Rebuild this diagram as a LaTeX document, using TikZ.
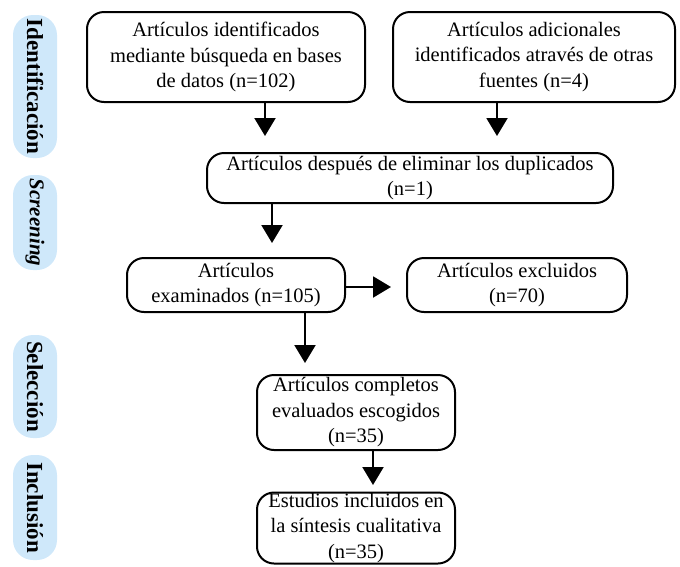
\documentclass[tikz,border=0pt]{standalone}
\usepackage{fontspec}
\setmainfont{Liberation Serif}
\usetikzlibrary{arrows.meta}
\definecolor{pill}{RGB}{207,232,250}
\tikzset{
  box/.style={draw=black, line width=2pt, rounded corners=17pt, align=center,
    font=\fontsize{20.5}{25.5}\selectfont, inner sep=0pt},
  pillbox/.style={fill=pill, draw=none, rounded corners=20pt},
  sidelab/.style={rotate=-90, font=\fontsize{23}{26}\selectfont\bfseries, inner sep=0pt},
  arr/.style={line width=2pt, -{Triangle[length=18pt,width=21pt]}}
}
\begin{document}
\begin{tikzpicture}[x=1pt,y=-1pt]
\useasboundingbox (0,0) rectangle (680,566);
% side pills
\fill[pillbox] (13,15) rectangle (57,158);
\fill[pillbox] (13,175) rectangle (57,270);
\fill[pillbox] (13,335) rectangle (57,438);
\fill[pillbox] (13,455) rectangle (57,560);
\node[sidelab] (l1) at (35,86.5) {Identificación};
\node[sidelab, font=\fontsize{21}{24}\selectfont\bfseries\itshape] (l2) at (35,222.5) {Screening};
\node[sidelab] (l3) at (35,386.5) {Selección};
\node[sidelab] (l4) at (35,507.5) {Inclusión};
% boxes
\node[box, minimum width=278pt, minimum height=90pt] (b1) at (226,57)
  {Artículos identificados\\mediante búsqueda en bases\\de datos (n=102)};
\node[box, minimum width=282pt, minimum height=90pt] (b2) at (534,57)
  {Artículos adicionales\\identificados através de otras\\fuentes (n=4)};
\node[box, minimum width=406pt, minimum height=50pt] (b3) at (410,178)
  {Artículos después de eliminar los duplicados\\(n=1)};
\node[box, minimum width=218pt, minimum height=54pt] (b4) at (236,285)
  {Artículos\\examinados (n=105)};
\node[box, minimum width=220pt, minimum height=54pt] (b5) at (517,285)
  {Artículos excluidos\\(n=70)};
\node[box, minimum width=198pt, minimum height=75pt] (b6) at (356,412.5)
  {Artículos completos\\evaluados escogidos\\(n=35)};
\node[box, minimum width=198pt, minimum height=71pt] (b7) at (356,528)
  {Estudios incluidos en\\la síntesis cualitativa\\(n=35)};
% arrows
\coordinate (e1) at (265,136);
\coordinate (e2) at (497,136);
\coordinate (e3) at (272,243);
\coordinate (e4) at (391,287);
\coordinate (e5) at (305,363);
\coordinate (e6) at (373,485);
\draw[arr] (b1.south -| e1) -- (e1);
\draw[arr] (b2.south -| e2) -- (e2);
\draw[arr] (b3.south -| e3) -- (e3);
\draw[arr] (b4.east |- e4) -- (e4);
\draw[arr] (b4.south -| e5) -- (e5);
\draw[arr] (b6.south -| e6) -- (e6);
\end{tikzpicture}
\end{document}
